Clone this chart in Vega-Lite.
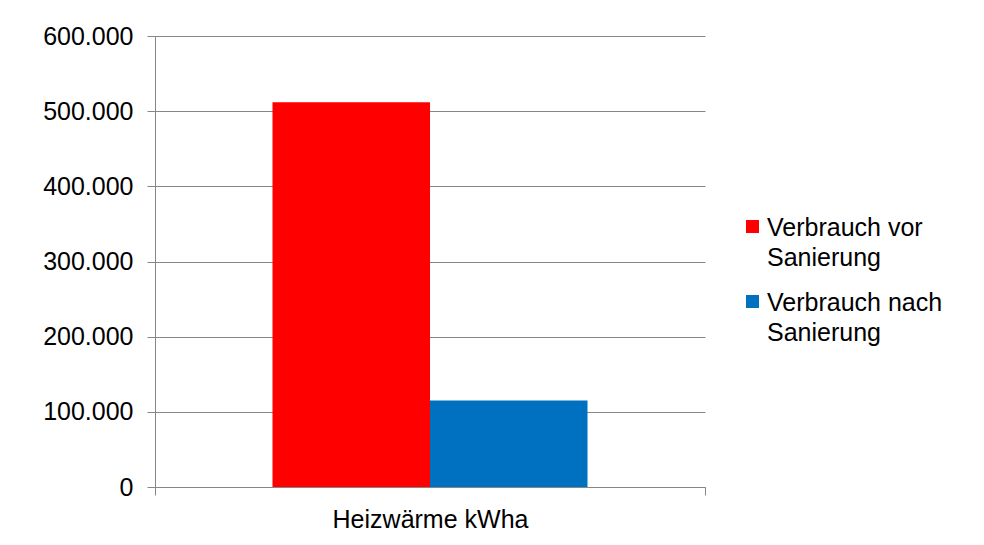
{
  "$schema": "https://vega.github.io/schema/vega-lite/v6.json",
  "width": 550,
  "height": 451,
  "autosize": {"type": "none"},
  "padding": {"left": 155, "top": 36, "right": 279, "bottom": 58},
  "background": "white",
  "config": {
    "locale": {"number": {"decimal": ",", "thousands": ".", "grouping": [3], "currency": ["", " €"]}},
    "view": {"stroke": null},
    "font": "Liberation Sans"
  },
  "data": {
    "values": [
      {"category": "Heizwärme kWha", "series": "Verbrauch vor Sanierung", "value": 512000},
      {"category": "Heizwärme kWha", "series": "Verbrauch nach Sanierung", "value": 115000}
    ]
  },
  "mark": {"type": "bar"},
  "encoding": {
    "x": {
      "field": "category",
      "type": "nominal",
      "title": null,
      "scale": {"paddingInner": 0, "paddingOuter": 0},
      "axis": {
        "labelAngle": 0,
        "labelFontSize": 25,
        "labelColor": "#000",
        "labelPadding": 12,
        "labelLimit": 500,
        "tickBand": "extent",
        "tickSize": 8,
        "tickColor": "#868686",
        "domainColor": "#868686",
        "grid": false
      }
    },
    "xOffset": {
      "field": "series",
      "type": "nominal",
      "sort": ["Verbrauch vor Sanierung", "Verbrauch nach Sanierung"],
      "scale": {"paddingInner": 0, "paddingOuter": 0.746}
    },
    "y": {
      "field": "value",
      "type": "quantitative",
      "title": null,
      "scale": {"domain": [0, 600000], "nice": false},
      "axis": {
        "values": [0, 100000, 200000, 300000, 400000, 500000, 600000],
        "format": ",d",
        "labelFontSize": 25,
        "labelColor": "#000",
        "labelPadding": 14,
        "tickSize": 8,
        "tickColor": "#868686",
        "domainColor": "#868686",
        "gridColor": "#868686",
        "gridOpacity": 1
      }
    },
    "color": {
      "field": "series",
      "type": "nominal",
      "sort": ["Verbrauch vor Sanierung", "Verbrauch nach Sanierung"],
      "scale": {"domain": ["Verbrauch vor Sanierung", "Verbrauch nach Sanierung"], "range": ["#FF0000", "#0070C0"]},
      "legend": {
        "title": null,
        "orient": "none",
        "legendX": 585,
        "legendY": 178,
        "symbolType": "square",
        "symbolSize": 169,
        "symbolStrokeWidth": 0,
        "labelFontSize": 25,
        "labelColor": "#000",
        "labelExpr": "[replace(datum.label, ' Sanierung', ''), 'Sanierung']",
        "labelBaseline": "top",
        "labelOffset": 2,
        "rowPadding": 18,
        "labelLimit": 300,
        "encode": {"labels": {"update": {"lineHeight": {"value": 30}, "dy": {"value": -11}}}}
      }
    }
  }
}
